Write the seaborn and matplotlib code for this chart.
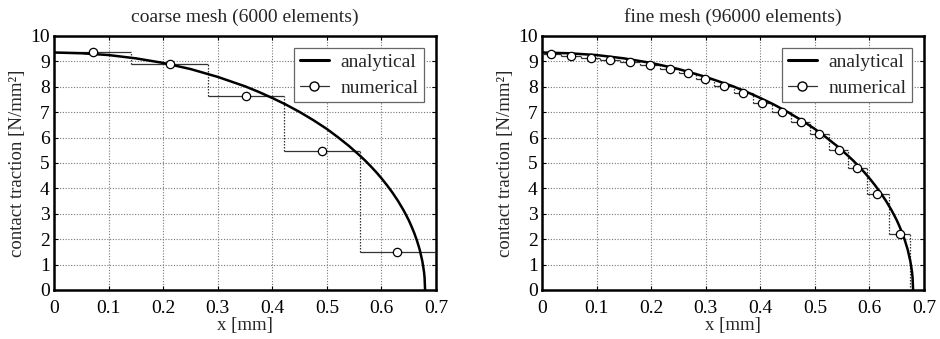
import numpy as np
import pandas as pd
import matplotlib
matplotlib.use("Agg")
import matplotlib.pyplot as plt
from matplotlib.lines import Line2D
import seaborn as sns

# ---- data ----
ana_x = [0.0, 0.05, 0.10, 0.15, 0.20, 0.25, 0.30, 0.35, 0.375, 0.40, 0.425, 0.45,
         0.475, 0.50, 0.52, 0.54, 0.56, 0.57, 0.58, 0.59, 0.60, 0.61, 0.62, 0.63,
         0.64, 0.645, 0.65, 0.655, 0.66, 0.665, 0.67, 0.675, 0.678, 0.679, 0.68]
ana_y = [9.35, 9.32, 9.25, 9.12, 8.94, 8.70, 8.39, 8.02, 7.80, 7.56, 7.30, 7.01,
         6.69, 6.34, 6.02, 5.68, 5.30, 5.10, 4.88, 4.65, 4.40, 4.13, 3.84, 3.52,
         3.16, 2.96, 2.75, 2.51, 2.25, 1.95, 1.60, 1.13, 0.72, 0.51, 0.0]

coarse_edges = [0.0, 0.142, 0.282, 0.422, 0.561, 0.70]
coarse_mid = [0.072, 0.213, 0.352, 0.491, 0.629]
coarse_val = [9.38, 8.88, 7.63, 5.49, 1.49]

fine_edges = [0.0, 0.035, 0.071, 0.106, 0.143, 0.180, 0.216, 0.251, 0.283, 0.316,
              0.351, 0.386, 0.421, 0.456, 0.491, 0.526, 0.561, 0.596, 0.636, 0.675]
fine_mid = [0.017, 0.054, 0.089, 0.125, 0.161, 0.198, 0.235, 0.267, 0.299, 0.334,
            0.369, 0.404, 0.439, 0.474, 0.508, 0.544, 0.578, 0.614, 0.656]
fine_val = [9.30, 9.20, 9.13, 9.05, 8.97, 8.87, 8.70, 8.53, 8.30, 8.05,
            7.75, 7.38, 7.02, 6.62, 6.13, 5.52, 4.80, 3.77, 2.20]

titles = ["coarse mesh (6000 elements)", "fine mesh (96000 elements)"]
xticks = [0, 0.1, 0.2, 0.3, 0.4, 0.5, 0.6, 0.7]
xticklabels = ["0", "0.1", "0.2", "0.3", "0.4", "0.5", "0.6", "0.7"]
yticks = list(range(0, 11))

sns.set_theme(style="white")
plt.rcParams["font.family"] = ["Liberation Serif", "DejaVu Serif"]

fig = plt.figure(figsize=(9.40, 3.39), dpi=100)
W, H = 940.0, 339.0
ax_boxes = [[54 / W, (H - 290) / H, 382 / W, 254 / H],
            [542 / W, (H - 290) / H, 382 / W, 254 / H]]

datasets = [(coarse_edges, coarse_mid, coarse_val),
            (fine_edges, fine_mid, fine_val)]

ana_df = pd.DataFrame({"x": ana_x, "y": ana_y})

for i, (edges, mids, vals) in enumerate(datasets):
    ax = fig.add_axes(ax_boxes[i])
    ax.set_xlim(0, 0.7)
    ax.set_ylim(0, 10)
    ax.set_xticks(xticks)
    ax.set_xticklabels(xticklabels)
    ax.set_yticks(yticks)
    ax.grid(True, color="#777777", linestyle=(0, (1, 1.5)), linewidth=0.8)
    ax.set_axisbelow(True)

    # numerical step segments
    lefts = edges[:-1]
    rights = edges[1:]
    ax.hlines(vals, lefts, rights, colors="#333333", linewidth=0.9, zorder=3)
    # dotted connectors between elements
    conn_x = edges[1:-1]
    conn_lo = [min(vals[k], vals[k + 1]) for k in range(len(vals) - 1)]
    conn_hi = [max(vals[k], vals[k + 1]) for k in range(len(vals) - 1)]
    ax.vlines(conn_x, conn_lo, conn_hi, colors="#333333", linewidth=0.9,
              linestyles=(0, (1.2, 1.2)), zorder=3)
    ax.vlines([edges[-1]], [0], [vals[-1]], colors="#333333", linewidth=0.9,
              linestyles=(0, (1.2, 1.2)), zorder=3)

    # analytical curve
    sns.lineplot(data=ana_df, x="x", y="y", ax=ax, color="black", linewidth=1.8,
                 sort=False, estimator=None, zorder=4, legend=False)
    # numerical markers
    num_df = pd.DataFrame({"x": mids, "y": vals})
    sns.scatterplot(data=num_df, x="x", y="y", ax=ax, marker="o", s=36,
                    facecolor="white", edgecolor="black", linewidth=0.9,
                    zorder=5, legend=False)

    ax.set_xlabel("x [mm]", fontsize=13.5, labelpad=0)
    ax.set_ylabel("contact traction [N/mm²]", fontsize=13.5, labelpad=3)
    ax.set_title(titles[i], fontsize=14, pad=10)
    ax.tick_params(axis="both", which="both", direction="in", length=3,
                   width=0.8, labelsize=14, top=True, right=True,
                   bottom=True, left=True, pad=3, colors="black")
    ax.tick_params(axis="x", pad=7)
    for sp in ax.spines.values():
        sp.set_visible(True)
        sp.set_color("black")
        sp.set_linewidth(1.8)

    handles = [Line2D([], [], color="black", linewidth=2.2),
               Line2D([], [], color="#333333", linewidth=0.9, marker="o",
                      markersize=6.5, markerfacecolor="white",
                      markeredgecolor="black")]
    leg = ax.legend(handles, ["analytical", "numerical"], loc="upper right",
                    fontsize=14, frameon=True, fancybox=False,
                    edgecolor="#666666", framealpha=1, handlelength=1.5,
                    borderaxespad=0.6, borderpad=0.3, labelspacing=0.4,
                    handletextpad=0.6)
    leg.get_frame().set_linewidth(0.9)

fig.savefig("out.png", dpi=100)
